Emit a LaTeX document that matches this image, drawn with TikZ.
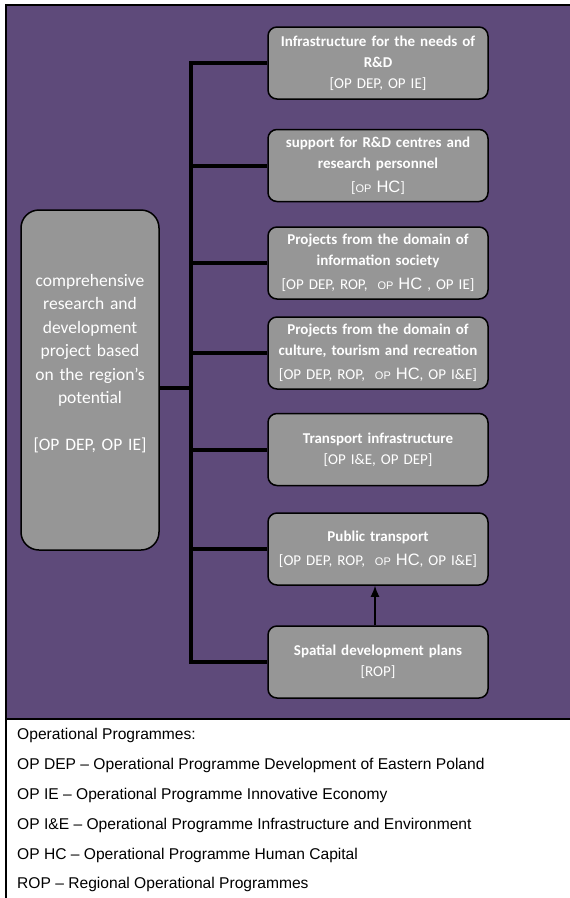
\documentclass[tikz,border=0pt]{standalone}
\usepackage{fontspec}
\setmainfont{Carlito}
\newfontfamily\arialfont{Liberation Sans}
\usepackage{xcolor}
\usepackage{tikz}
\usetikzlibrary{arrows, arrows.meta, positioning}
\definecolor{bgpurple}{RGB}{94,74,122}
\definecolor{boxgray}{RGB}{150,150,150}
\newcommand\ophc{{\arialfont\fontsize{11}{11}\selectfont OP \fontsize{16.5}{16.5}\selectfont HC}}
\tikzset{
  treenode/.style = {align=center, inner sep=0pt, text centered,
    text=white},
  pbox/.style = {treenode, rounded corners=9pt, fill=boxgray, draw=black,
    line width=1.5pt, minimum width=220pt, minimum height=72pt,
    text width=218pt, font=\fontsize{15}{21}\selectfont},
  mainbox/.style = {treenode, rounded corners=18pt, fill=boxgray, draw=black,
    line width=1.5pt, minimum width=138pt, minimum height=340pt,
    text width=134pt, font=\fontsize{17.5}{23.5}\selectfont},
  link/.style = {line width=4pt, black},
  legend/.style = {anchor=west, inner sep=0pt,
    font=\arialfont\fontsize{15.6}{15.6}\selectfont}
}

\begin{document}
\begin{tikzpicture}[x=1pt, y=-1pt]
\useasboundingbox (0,0) rectangle (570,898);
\fill[bgpurple] (6,5) rectangle (570,719);
\draw[line width=2.5pt] (570,5) -- (6,5) -- (6,898);
\draw[line width=2pt] (6,719) -- (570,719);

\node [mainbox] (main) at (90,380) {comprehensive\\research and\\development\\project based\\on the region’s\\potential\\[23.5pt]{[}OP DEP, OP IE]\\[12pt]\mbox{}};

\node [pbox] (b1) at (378,63) {\textbf{Infrastructure for the needs of\\R\&D}\\{[}OP DEP, OP IE]};
\node [pbox] (b2) at (378,165.5) {\textbf{support for R\&D centres and\\research personnel}\\[3pt]{[}\ophc]};
\node [pbox] (b3) at (378,263) {\textbf{Projects from the domain of\\information society}\\[3pt]{[}OP DEP, ROP, \ \ophc\ , OP IE]};
\node [pbox] (b4) at (378,353) {\textbf{Projects from the domain of\\culture, tourism and recreation}\\[3pt]{[}OP DEP, ROP, \ \ophc, OP I\&E]};
\node [pbox] (b5) at (378,449.5) {\textbf{Transport infrastructure}\\{[}OP I\&E, OP DEP]};
\node [pbox] (b6) at (378,549) {\textbf{Public transport}\\[3pt]{[}OP DEP, ROP, \ \ophc, OP I\&E]};
\node [pbox] (b7) at (378,662) {\textbf{Spatial development plans}\\{[}ROP]};

\coordinate (trunk) at (191,63);
\draw[link] (b1.west) -- (b1.west -| trunk) -- (b7.west -| trunk) -- (b7.west);
\foreach \n in {b2,b3,b4,b5,b6}
  \draw[link] (\n.west) -- (\n.west -| trunk);
\draw[link] ([yshift=-8pt]main.east) -- ([yshift=-8pt]main.east -| trunk);
\draw[-{Latex[length=11pt,width=9pt]}, line width=1.5pt] ([xshift=-3pt]b7.north) -- ([xshift=-3pt]b6.south);

\foreach \txt [count=\i] in {Operational Programmes:,
  OP DEP – Operational Programme Development of Eastern Poland,
  OP IE – Operational Programme Innovative Economy,
  OP I\&E – Operational Programme Infrastructure and Environment,
  OP HC – Operational Programme Human Capital,
  ROP – Regional Operational Programmes}
  \node [legend] (leg\i) at (17,706+29.8*\i) {\txt};
\end{tikzpicture}
\end{document}
